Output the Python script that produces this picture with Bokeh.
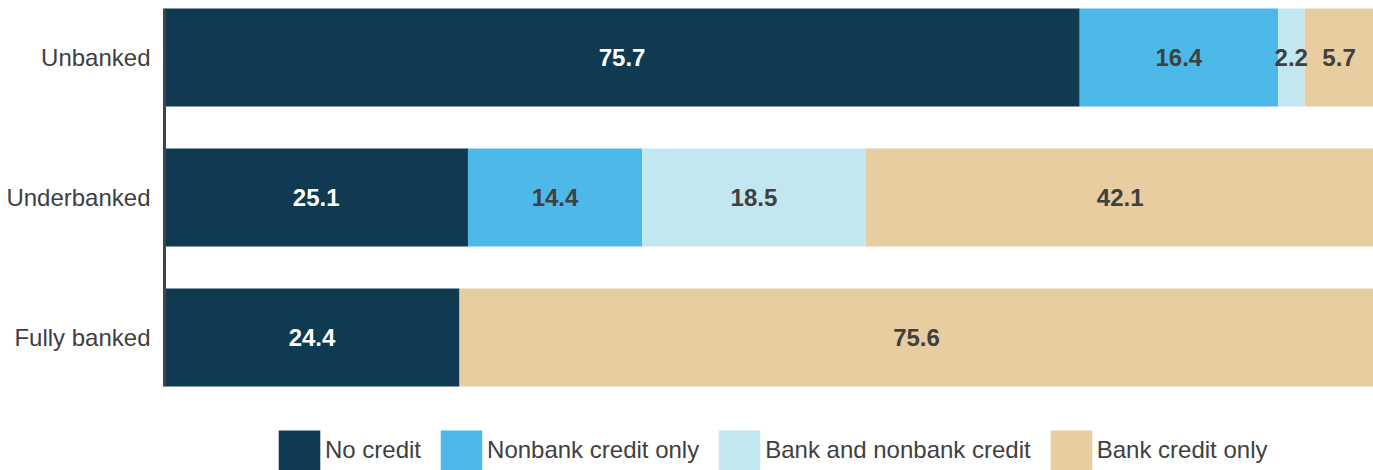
from bokeh.plotting import figure
from bokeh.models import (ColumnDataSource, Range1d, FixedTicker, LabelSet,
                          Legend, LegendItem)
from bokeh.core.properties import value
from bokeh.embed import file_html
from bokeh.resources import INLINE

categories = ["Unbanked", "Underbanked", "Fully banked"]
series = ["No credit", "Nonbank credit only", "Bank and nonbank credit", "Bank credit only"]
no_credit = [75.7, 25.1, 24.4]
nonbank_only = [16.4, 14.4, 0.0]
bank_and_nonbank = [2.2, 18.5, 0.0]
bank_only = [5.7, 42.1, 75.6]
colors = ["#0f3a52", "#4db9e8", "#c3e7f1", "#e8cda1"]
label_colors = ["#ffffff", "#404040", "#404040", "#404040"]

FONT = "Liberation Sans"
W, H = 1373, 470
ROW_PX = 140.0
TOP_PAD = 8
keys = ["s0", "s1", "s2", "s3"]
values = [no_credit, nonbank_only, bank_and_nonbank, bank_only]
ypos = list(range(len(categories)))

data = {"y": ypos}
for k, v in zip(keys, values):
    data[k] = v
source = ColumnDataSource(data)

y_top = -0.35 - TOP_PAD / ROW_PX
y_bottom = y_top + H / ROW_PX
p = figure(width=W, height=H, output_backend="svg", toolbar_location=None,
           x_range=Range1d(0, 100), y_range=Range1d(y_bottom, y_top),
           min_border_left=164, min_border_right=0, min_border_top=0,
           min_border_bottom=0)

renderers = p.hbar_stack(keys, y="y", height=0.7, color=colors, source=source,
                         line_color=None)

# segment labels
for i, (k, v) in enumerate(zip(keys, values)):
    starts = [sum(values[j][c] for j in range(i)) for c in range(len(categories))]
    xs, ys, txt = [], [], []
    for c in range(len(categories)):
        if v[c] > 0:
            xs.append(starts[c] + v[c] / 2)
            ys.append(ypos[c])
            txt.append(f"{v[c]:.1f}")
    ls = ColumnDataSource(dict(x=xs, y=ys, t=txt))
    p.add_layout(LabelSet(x="x", y="y", text="t", source=ls, text_align="center",
                          text_baseline="middle", text_font=value(FONT),
                          text_font_size="24px", text_font_style="bold",
                          text_color=label_colors[i]))

p.xaxis.visible = False
p.xgrid.visible = False
p.ygrid.visible = False
p.outline_line_color = None

yax = p.yaxis[0]
yax.ticker = FixedTicker(ticks=ypos)
yax.bounds = (-0.35, len(categories) - 1 + 0.35)
yax.major_label_overrides = {i: c for i, c in zip(ypos, categories)}
yax.major_tick_line_color = None
yax.minor_tick_line_color = None
yax.major_tick_out = 0
yax.major_tick_in = 0
yax.major_label_standoff = 14
yax.axis_line_color = "#444444"
yax.axis_line_width = 3
yax.major_label_text_font = FONT
yax.major_label_text_font_size = "24px"
yax.major_label_text_color = "#404040"

items = [LegendItem(label=s, renderers=[r]) for s, r in zip(series, renderers)]
legend = Legend(items=items, orientation="horizontal", location=(109, -5),
                glyph_width=52, glyph_height=50, label_standoff=0, spacing=14,
                padding=0, margin=0, border_line_color=None,
                background_fill_alpha=0, label_text_font=FONT,
                label_text_font_size="24px", label_text_color="#404040",
                label_height=50)
p.add_layout(legend, "center")

open("out.html", "w").write(file_html(p, INLINE))
